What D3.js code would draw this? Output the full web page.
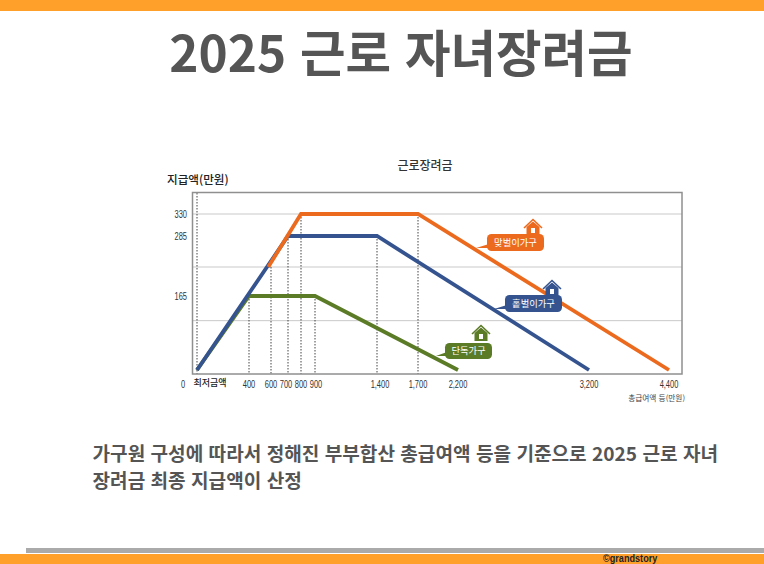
<!DOCTYPE html>
<html lang="ko"><head><meta charset="utf-8">
<script src="https://cdn.jsdelivr.net/npm/d3@7/dist/d3.min.js"></script>
<style>html,body{margin:0;padding:0;background:#fff;overflow:hidden}svg{display:block;font-family:"Noto Sans CJK KR","Noto Sans",sans-serif}</style>
</head><body><svg id="c" width="764" height="564"></svg>
<script>
const titleText = "2025 근로 자녀장려금";
const chartTitle = "근로장려금";
const yTitle = "지급액(만원)";
const xTitle = "총급여액 등(만원)";
const floorLabel = "최저금액";
const captionLines = ["가구원 구성에 따라서 정해진 부부합산 총급여액 등을 기준으로 2025 근로 자녀", "장려금 최종 지급액이 산정"];
const credit = "©grandstory";

const xStops = [0, 400, 600, 700, 800, 900, 1400, 1700, 2200, 3200, 4400];
const xTickValues = [400, 600, 700, 800, 900, 1400, 1700, 2200, 3200, 4400];
const yStops = [0, 165, 285, 330];
const yTickValues = [165, 285, 330];
const gridValues = [110, 223, 330];

const singleX = [0, 400, 900, 2200];
const singleY = [0, 165, 165, 0];
const soloX = [0, 700, 1400, 3200];
const soloY = [0, 285, 285, 0];
const dualX = [575, 800, 1700, 4400];
const dualY = [223, 330, 330, 0];

const guideX = [400, 600, 700, 800, 900, 1400, 1700];
const guideY = [165, 223, 285, 330, 165, 285, 330];

const labelNames = ["맞벌이가구", "홑벌이가구", "단독가구"];
const labelColors = ["#ec6a1e", "#35548f", "#5b7b27"];

const svg = d3.select("#c");
const orange = "#ffa02b";
const latin = "'Liberation Sans',sans-serif";

svg.append("rect").attr("x",0).attr("y",0).attr("width",764).attr("height",11).attr("fill",orange);
svg.append("text").attr("x",401).attr("y",72).attr("text-anchor","middle")
  .attr("font-size",49.5).attr("font-weight",700).attr("fill","#555").text(titleText);

// Piecewise scales: the reference's axes are schematic, not proportional.
const x = d3.scaleLinear().domain(xStops).range([197,249,271,288,301,315,377,418,458,589,669]);
const y = d3.scaleLinear().domain(yStops).range([370,296,236,214]);
const axisY = 374;

svg.selectAll("line.grid").data(gridValues).join("line").attr("class","grid")
  .attr("x1",192).attr("x2",682).attr("y1",d=>y(d)).attr("y2",d=>y(d))
  .attr("stroke","#c9c9c9").attr("stroke-width",1);

const g = svg.append("g");
g.selectAll("line.guide").data(guideX).join("line").attr("class","guide")
  .attr("x1",d=>x(d)).attr("x2",d=>x(d)).attr("y1",(d,i)=>y(guideY[i])).attr("y2",axisY)
  .attr("stroke","#444").attr("stroke-width",1).attr("stroke-dasharray","1.5 1.5");
g.append("line").attr("x1",x(0)).attr("x2",x(0)).attr("y1",193).attr("y2",axisY)
  .attr("stroke","#444").attr("stroke-width",1).attr("stroke-dasharray","1.5 1.5");

svg.append("rect").attr("x",192.5).attr("y",192.5).attr("width",489.5).attr("height",181.5)
  .attr("fill","none").attr("stroke","#8f8f8f").attr("stroke-width",1.5);

const line = d3.line().x(d=>x(d[0])).y(d=>y(d[1]));
const draw = (xs,ys,c,w)=>svg.append("path").attr("d",line(d3.zip(xs,ys)))
  .attr("fill","none").attr("stroke",c).attr("stroke-width",w).attr("stroke-linejoin","miter");
draw(singleX,singleY,labelColors[2],3.8);
draw(soloX,soloY,labelColors[1],3.8);
draw(dualX,dualY,labelColors[0],3.8);

// Condensed digits: no narrow face is installed, so squeeze horizontally.
const squeeze = .75;
const condensed = (sel,px,py,anchor)=>sel
  .attr("transform",(d,i)=>`translate(${px(d,i)},${py(d,i)}) scale(${squeeze},1)`)
  .attr("text-anchor",anchor).attr("font-size",10).attr("fill","#333").style("font-family",latin);
const nudge = d=> d===700?-2 : d===1400?3 : d===900?1 : 0;
condensed(svg.selectAll("text.xt").data(xTickValues).join("text").attr("class","xt").text(d3.format(",")),
  d=>x(d)+nudge(d), ()=>388, "middle");
condensed(svg.selectAll("text.yt").data(yTickValues).join("text").attr("class","yt").text(d=>d),
  ()=>187, d=>y(d)+3.5, "end");
condensed(svg.append("text").datum(0).text("0"), ()=>183, ()=>388, "middle");

svg.append("text").attr("x",210).attr("y",386).attr("text-anchor","middle").attr("font-size",9).attr("font-weight",500).attr("fill","#222").text(floorLabel);
svg.append("text").attr("x",425).attr("y",169.5).attr("text-anchor","middle").attr("font-size",12).attr("font-weight",500).attr("fill","#333").text(chartTitle);
svg.append("text").attr("x",167).attr("y",184).attr("font-size",11.6).attr("font-weight",500).attr("fill","#222").text(yTitle);
svg.append("text").attr("x",685).attr("y",401).attr("text-anchor","end").attr("font-size",7.7).attr("fill","#444").text(xTitle);

const box = [
 {x:487,y:234,w:57,h:17,tx:476,ty:248,hx:533,hy:228},
 {x:505,y:295,w:57,h:17,tx:494,ty:309,hx:552,hy:289},
 {x:445,y:343,w:47,h:16,tx:436,ty:356,hx:481,hy:334}];
box.forEach((b,i)=>{
  const c=labelColors[i], h=svg.append("g").attr("transform",`translate(${b.hx},${b.hy})`);
  h.append("path").attr("d","M-9,0 L0,-8.5 L9,0").attr("fill","none").attr("stroke",c).attr("stroke-width",1.6);
  h.append("path").attr("d","M-6.5,-1 L0,-6.5 L6.5,-1 V7 H-6.5 Z").attr("fill",c);
  h.append("rect").attr("x",-2).attr("y",0).attr("width",4).attr("height",5).attr("fill","#fff");
  svg.append("path").attr("d",`M${b.x+2},${b.y+b.h-7} L${b.tx},${b.ty} L${b.x+4},${b.y+b.h-3} Z`).attr("fill",c);
  svg.append("rect").attr("x",b.x).attr("y",b.y).attr("width",b.w).attr("height",b.h).attr("rx",4.5).attr("fill",c);
  svg.append("text").attr("x",b.x+b.w/2).attr("y",b.y+b.h/2+3.3).attr("text-anchor","middle")
    .attr("font-size",9.3).attr("fill","#fff").text(labelNames[i]);
});

svg.selectAll("text.cap").data(captionLines).join("text").attr("class","cap")
  .attr("x",92.5).attr("y",(d,i)=>461+i*27).attr("font-size",19.1).attr("font-weight",700).attr("fill","#555").text(d=>d);

svg.append("rect").attr("x",26).attr("y",548).attr("width",738).attr("height",5).attr("fill","#aaa");
svg.append("rect").attr("x",0).attr("y",554).attr("width",764).attr("height",10).attr("fill",orange);
svg.append("text").attr("transform","translate(603,562) scale(.83,1)").attr("font-size",11).attr("font-weight",700).attr("fill","#222")
  .style("font-family",latin).text(credit);
</script></body></html>
